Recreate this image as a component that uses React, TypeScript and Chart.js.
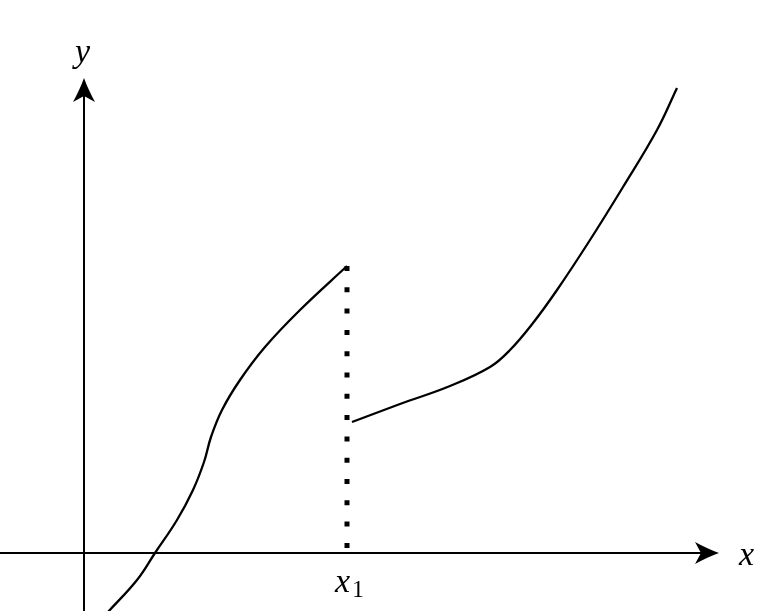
import React, { useEffect, useRef } from "react";
import { Chart, registerables } from "chart.js";

Chart.register(...registerables);

// Left branch of the curve (math units, origin at axes crossing)
const leftX = [0.24, 0.53, 0.71, 0.93, 1.09, 1.2, 1.27, 1.38, 1.56, 1.81, 2.16, 2.63];
const leftY = [-0.59, -0.27, 0.0, 0.33, 0.63, 0.91, 1.16, 1.43, 1.73, 2.06, 2.43, 2.87];

// Right branch of the curve
const rightX = [2.68, 3.16, 3.66, 4.06, 4.26, 4.49, 4.73, 5.06, 5.39, 5.73, 5.93];
const rightY = [1.31, 1.49, 1.67, 1.86, 2.03, 2.3, 2.63, 3.13, 3.66, 4.23, 4.65];

// Dotted jump line at x1
const dotX = [2.63, 2.63];
const dotY = [2.87, 0];

// Axes
const xAxisX = [-0.9, 6.2];
const xAxisY = [0, 0];
const yAxisX = [0, 0];
const yAxisY = [-0.6, 4.6];
const xArrowTip = [6.35, 0];
const yArrowTip = [0, 4.75];

// Labels
const labelTexts = ["y", "x", "x"];
const labelX = [-0.02, 6.62, 2.58];
const labelY = [4.91, -0.12, -0.39];
const subText = "1";
const subX = 2.735;
const subY = -0.44;

const X_MIN = -0.84;
const X_MAX = 6.86;
const Y_MIN = -0.58;
const Y_MAX = 5.53;

const pts = (xs: number[], ys: number[]) => xs.map((x, i) => ({ x, y: ys[i] }));

const ITALIC = '"MathSerifI", "Liberation Serif", "DejaVu Serif", serif';
const UPRIGHT = '"MathSerifR", "Liberation Serif", "DejaVu Serif", serif';

const FACE_CSS = `
@font-face { font-family: "MathSerifI"; font-style: normal; font-weight: 400;
  src: local("Liberation Serif Italic"), local("LiberationSerif-Italic"), local("DejaVu Serif Italic"), local("DejaVuSerif-Italic"); }
@font-face { font-family: "MathSerifR"; font-style: normal; font-weight: 400;
  src: local("Liberation Serif"), local("LiberationSerif"), local("DejaVu Serif"), local("DejaVuSerif"); }
`;

export default function App() {
  const ref = useRef<HTMLCanvasElement | null>(null);
  useEffect(() => {
    if (!ref.current) return;
    const styleEl = document.createElement("style");
    styleEl.textContent = FACE_CSS;
    document.head.appendChild(styleEl);
    const drawArrow = (ctx: CanvasRenderingContext2D, tx: number, ty: number, angle: number) => {
      const len = 24;
      const w = 11;
      ctx.save();
      ctx.translate(tx, ty);
      ctx.rotate(angle);
      ctx.beginPath();
      ctx.moveTo(0, 0);
      ctx.quadraticCurveTo(-len * 0.45, -w * 0.35, -len, -w);
      ctx.lineTo(-len + 6, 0);
      ctx.lineTo(-len, w);
      ctx.quadraticCurveTo(-len * 0.45, w * 0.35, 0, 0);
      ctx.closePath();
      ctx.fillStyle = "#000";
      ctx.fill();
      ctx.restore();
    };
    const overlay = {
      id: "overlay",
      afterDatasetsDraw(chart: any) {
        const ctx = chart.ctx as CanvasRenderingContext2D;
        const sx = chart.scales.x;
        const sy = chart.scales.y;
        drawArrow(ctx, sx.getPixelForValue(xArrowTip[0]), sy.getPixelForValue(xArrowTip[1]), 0);
        drawArrow(ctx, sx.getPixelForValue(yArrowTip[0]), sy.getPixelForValue(yArrowTip[1]), -Math.PI / 2);
        ctx.save();
        ctx.fillStyle = "#000";
        ctx.textAlign = "center";
        ctx.textBaseline = "alphabetic";
        ctx.font = "34px " + ITALIC;
        labelTexts.forEach((t, i) => {
          ctx.fillText(t, sx.getPixelForValue(labelX[i]), sy.getPixelForValue(labelY[i]));
        });
        ctx.font = "24px " + UPRIGHT;
        ctx.fillText(subText, sx.getPixelForValue(subX), sy.getPixelForValue(subY));
        ctx.restore();
      },
    };
    const lineDs = (data: any, extra: any = {}) => ({
      data,
      borderColor: "#000",
      borderWidth: 2,
      pointRadius: 0,
      showLine: true,
      fill: false,
      tension: 0,
      ...extra,
    });
    const chart = new Chart(ref.current, {
      type: "scatter",
      data: {
        datasets: [
          lineDs(pts(xAxisX, xAxisY)),
          lineDs(pts(yAxisX, yAxisY)),
          lineDs(pts(leftX, leftY), { borderWidth: 2.3, tension: 0.4 }),
          lineDs(pts(rightX, rightY), { borderWidth: 2.3, tension: 0.4 }),
          lineDs(pts(dotX, dotY), { borderWidth: 5, borderDash: [5, 16.3], borderCapStyle: "butt" }),
        ],
      },
      options: {
        animation: false,
        responsive: false,
        maintainAspectRatio: false,
        layout: { padding: 0 },
        plugins: { legend: { display: false }, tooltip: { enabled: false } },
        scales: {
          x: { type: "linear", min: X_MIN, max: X_MAX, display: false },
          y: { type: "linear", min: Y_MIN, max: Y_MAX, display: false },
        },
      },
      plugins: [overlay],
    } as any);
    let alive = true;
    const fonts: any = (document as any).fonts;
    if (fonts && fonts.load) {
      Promise.all([fonts.load('34px "MathSerifI"'), fonts.load('24px "MathSerifR"')])
        .then(() => {
          if (alive) chart.draw();
        })
        .catch(() => {});
    }
    return () => {
      alive = false;
      chart.destroy();
      styleEl.remove();
    };
  }, []);
  return (
    <div style={{ position: "fixed", left: 0, top: 0, width: 770, height: 611, background: "#fff" }}>
      <canvas ref={ref} width={770} height={611} style={{ display: "block" }} />
    </div>
  );
}
